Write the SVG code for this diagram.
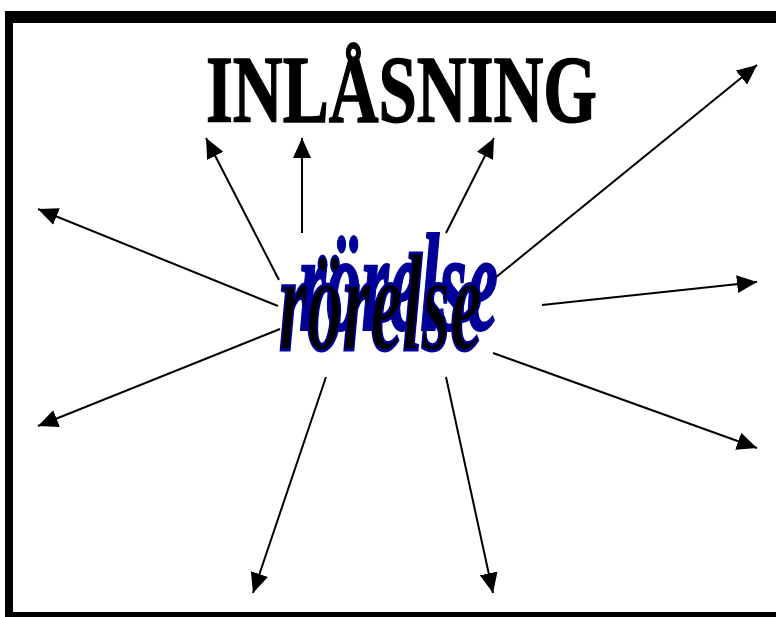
<svg xmlns="http://www.w3.org/2000/svg" width="776" height="617" viewBox="0 0 776 617">
<style>
.frame{fill:#000}
.conn line{stroke:#000;stroke-width:2;fill:none;marker-end:url(#ah)}
.title{font-family:"Liberation Serif","Times New Roman",serif;font-weight:bold;font-size:96px;fill:#000;stroke:#000;stroke-width:1.5}
.word{font-family:"Liberation Serif","Times New Roman",serif;font-weight:bold;font-style:italic;font-size:140px}
</style>
<defs>
<marker id="ah" markerUnits="userSpaceOnUse" markerWidth="20" markerHeight="18" refX="20" refY="9" orient="auto">
<path d="M0,0 L20,9 L0,18 z" fill="#000"/>
</marker>
</defs>
<rect width="776" height="617" fill="#fff"/>
<g id="frame">
<rect class="frame" x="5" y="11" width="771" height="12"/>
<rect class="frame" x="5" y="11" width="8" height="606"/>
<rect class="frame" x="5" y="612" width="771" height="5"/>
</g>
<g id="title">
<text class="title" x="206" y="122" textLength="391" lengthAdjust="spacingAndGlyphs">INLÅSNING</text>
</g>
<g class="conn" id="connectors">
<line x1="279" y1="280" x2="206" y2="138"/>
<line x1="302" y1="233" x2="302" y2="138"/>
<line x1="446" y1="233" x2="494" y2="138"/>
<line x1="495" y1="278" x2="757" y2="65"/>
<line x1="542" y1="305" x2="757" y2="282"/>
<line x1="493" y1="353" x2="757" y2="448"/>
<line x1="446" y1="377" x2="493" y2="593"/>
<line x1="326" y1="377" x2="253" y2="593"/>
<line x1="280" y1="329" x2="38" y2="426"/>
<line x1="278" y1="306" x2="38" y2="209"/>
</g>
<g id="center">
<text class="word" x="299" y="330" textLength="199" lengthAdjust="spacingAndGlyphs" fill="#000099" stroke="#000099" stroke-width="2">rörelse</text>
<text class="word" x="279" y="350" textLength="203" lengthAdjust="spacingAndGlyphs" fill="#000" stroke="#000099" stroke-width="3">rörelse</text>
</g>
</svg>
